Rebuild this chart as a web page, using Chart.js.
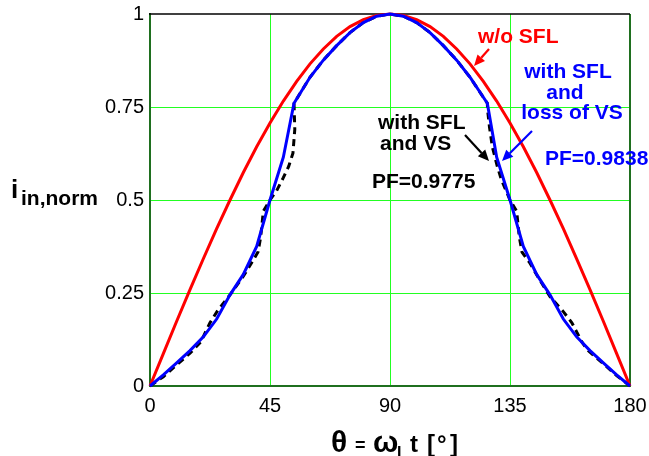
<!DOCTYPE html>
<html><head><meta charset="utf-8">
<script src="https://cdn.jsdelivr.net/npm/chart.js@4/dist/chart.umd.min.js"></script>
<style>html,body{margin:0;padding:0;background:#fff;overflow:hidden}</style>
</head><body>
<canvas id="c" width="649" height="456" style="display:block;width:649px;height:456px"></canvas>
<script>
// ---- data ----
const xTickValues = [0, 45, 90, 135, 180];
const xTickLabels = ['0', '45', '90', '135', '180'];
const yTickValues = [0, 0.25, 0.5, 0.75, 1];
const yTickLabels = ['0', '0.25', '0.5', '0.75', '1'];

// w/o SFL (red)
const thetaRed = [0,5,10,15,20,25,30,35,40,45,50,55,60,65,70,75,80,85,90,95,100,105,110,115,120,125,130,135,140,145,150,155,160,165,170,175,180];
const iRed = [0,0.087,0.174,0.259,0.342,0.423,0.5,0.574,0.643,0.707,0.766,0.819,0.866,0.906,0.94,0.966,0.985,0.996,1,0.996,0.985,0.966,0.94,0.906,0.866,0.819,0.766,0.707,0.643,0.574,0.5,0.423,0.342,0.259,0.174,0.087,0];

// with SFL and loss of VS (blue)
const thetaBlue = [0,5,10,15,20,25,30,35,40,45,50,54,60,65,70,75,80,85,90,95,100,105,110,115,120,126.5,130,135,140,145,150,155,160,165,170,175,180];
const iBlue = [0,0.03,0.062,0.095,0.132,0.18,0.245,0.3,0.375,0.5,0.615,0.76,0.83,0.876,0.915,0.95,0.977,0.994,1,0.994,0.977,0.95,0.915,0.876,0.83,0.76,0.615,0.5,0.375,0.3,0.245,0.18,0.132,0.095,0.062,0.03,0];

// with SFL and VS (black dashed)
const thetaVS = [0,5,10,15,19,22.5,25.5,30,35,38,40.5,41.5,42.5,45,47.5,50,52,53.6,54.3,54,60,65,70,75,80,85,90,95,100,105,110,115,120,126.5,126.6,127.3,128.4,130.3,131.8,133.7,135,137.5,138.5,139.5,142.5,145.5,150,155,158.2,162,164,170,175,180];
const iVS = [0,0.025,0.057,0.088,0.118,0.17,0.204,0.245,0.295,0.33,0.36,0.4,0.47,0.5,0.525,0.56,0.59,0.626,0.69,0.76,0.83,0.876,0.915,0.95,0.977,0.994,1,0.994,0.977,0.95,0.915,0.876,0.83,0.76,0.742,0.696,0.642,0.589,0.554,0.522,0.5,0.47,0.4,0.36,0.33,0.293,0.24,0.2,0.17,0.118,0.097,0.06,0.028,0];

const toPts = (xs, ys) => xs.map((x, i) => ({x, y: ys[i]}));

const FONT = '"Liberation Sans", Arial, Helvetica, sans-serif';
const GRID = '#22ff22';
const AXIS = '#1f6f1f';

const zeroPad = s => { s.paddingLeft = 0; s.paddingRight = 0; s.paddingTop = 0; s.paddingBottom = 0; };

const decor = {
  id: 'decor',
  beforeDatasetsDraw(chart) {
    const {ctx, chartArea: a} = chart;
    ctx.save();
    ctx.strokeStyle = AXIS; ctx.lineWidth = 2;
    ctx.beginPath(); ctx.moveTo(a.right, a.top); ctx.lineTo(a.right, a.bottom); ctx.stroke();
    ctx.strokeStyle = '#000'; ctx.lineWidth = 1.5;
    ctx.beginPath(); ctx.moveTo(a.left - 1, a.top); ctx.lineTo(a.right, a.top); ctx.stroke();
    ctx.restore();
  },
  afterDraw(chart) {
    const ctx = chart.ctx;
    ctx.save();
    ctx.textBaseline = 'alphabetic';
    const txt = (s, x, y, size, color, align) => {
      ctx.font = 'bold ' + size + 'px ' + FONT;
      ctx.fillStyle = color; ctx.textAlign = align || 'left';
      ctx.fillText(s, x, y);
    };
    const arrow = (x1, y1, x2, y2, color) => {
      const ang = Math.atan2(y2 - y1, x2 - x1), L = 11, W = 5;
      const bx = x2 - L * Math.cos(ang), by = y2 - L * Math.sin(ang);
      ctx.strokeStyle = color; ctx.fillStyle = color; ctx.lineWidth = 2.2;
      ctx.beginPath(); ctx.moveTo(x1, y1); ctx.lineTo(bx, by); ctx.stroke();
      ctx.beginPath(); ctx.moveTo(x2, y2);
      ctx.lineTo(bx + W * Math.sin(ang), by - W * Math.cos(ang));
      ctx.lineTo(bx - W * Math.sin(ang), by + W * Math.cos(ang));
      ctx.closePath(); ctx.fill();
    };
    // annotations
    txt('w/o SFL', 478, 43, 21, '#ff0000');
    arrow(489, 49, 474, 66, '#ff0000');
    txt('with SFL', 568, 78, 21, '#0000ff', 'center');
    txt('and', 565, 99, 21, '#0000ff', 'center');
    txt('loss of VS', 572, 119, 21, '#0000ff', 'center');
    arrow(532, 131, 502, 161, '#0000ff');
    txt('PF=0.9838', 545, 165, 21, '#0000ff');
    txt('with SFL', 378, 129, 21, '#000');
    txt('and VS', 380, 150, 21, '#000');
    arrow(465, 135, 489, 161, '#000');
    txt('PF=0.9775', 372, 188, 21, '#000');
    // y axis title
    txt('i', 11, 198, 26, '#000');
    txt('in,norm', 21, 205, 21, '#000');
    // x axis title
    txt('\u03B8', 331, 452, 30, '#000');
    txt('=', 355, 451, 18, '#000');
    txt('\u03C9', 373, 452, 30, '#000');
    txt('L', 397, 458, 16, '#000');
    txt('t', 410, 452, 24, '#000');
    txt('[', 427, 452, 24, '#000');
    txt('\u00B0', 437, 452, 24, '#000');
    txt(']', 450, 452, 24, '#000');
    ctx.restore();
  }
};

// Chart.js paints dataset 0 last (on top): blue on top, then red, dashed at the bottom
new Chart(document.getElementById('c'), {
  type: 'scatter',
  data: {
    datasets: [
      {label: 'with SFL and loss of VS', data: toPts(thetaBlue, iBlue), showLine: true, borderColor: '#0000ff', borderWidth: 3, pointRadius: 0, tension: 0, clip: false},
      {label: 'w/o SFL', data: toPts(thetaRed, iRed), showLine: true, borderColor: '#ff0000', borderWidth: 3, pointRadius: 0, tension: 0, clip: false},
      {label: 'with SFL and VS', data: toPts(thetaVS, iVS), showLine: true, borderColor: '#000', borderWidth: 3, borderDash: [7, 5], pointRadius: 0, tension: 0, clip: false}
    ]
  },
  options: {
    responsive: false,
    animation: false,
    devicePixelRatio: 1,
    layout: {padding: {top: 14, right: 19, left: 0, bottom: 0}},
    plugins: {legend: {display: false}, tooltip: {enabled: false}},
    scales: {
      x: {
        type: 'linear', min: 0, max: 180,
        afterBuildTicks: s => { s.ticks = xTickValues.map(v => ({value: v})); },
        afterFit: s => { s.height = 70; zeroPad(s); },
        ticks: {color: '#000', font: {family: FONT, size: 20}, padding: 8, maxRotation: 0, autoSkip: false,
                callback: v => xTickLabels[xTickValues.indexOf(v)]},
        grid: {drawTicks: false, lineWidth: 1, color: c => (c.tick && (c.tick.value === 180 || c.tick.value === 0)) ? 'rgba(0,0,0,0)' : GRID},
        border: {color: AXIS, width: 2}
      },
      y: {
        type: 'linear', min: 0, max: 1,
        afterBuildTicks: s => { s.ticks = yTickValues.map(v => ({value: v})); },
        afterFit: s => { s.width = 150; zeroPad(s); },
        ticks: {color: '#000', font: {family: FONT, size: 20}, padding: 6, autoSkip: false,
                callback: v => yTickLabels[yTickValues.indexOf(v)]},
        grid: {drawTicks: false, lineWidth: 1, color: c => (c.tick && (c.tick.value === 1 || c.tick.value === 0)) ? 'rgba(0,0,0,0)' : GRID},
        border: {color: AXIS, width: 2}
      }
    }
  },
  plugins: [decor]
});
</script>
</body></html>
